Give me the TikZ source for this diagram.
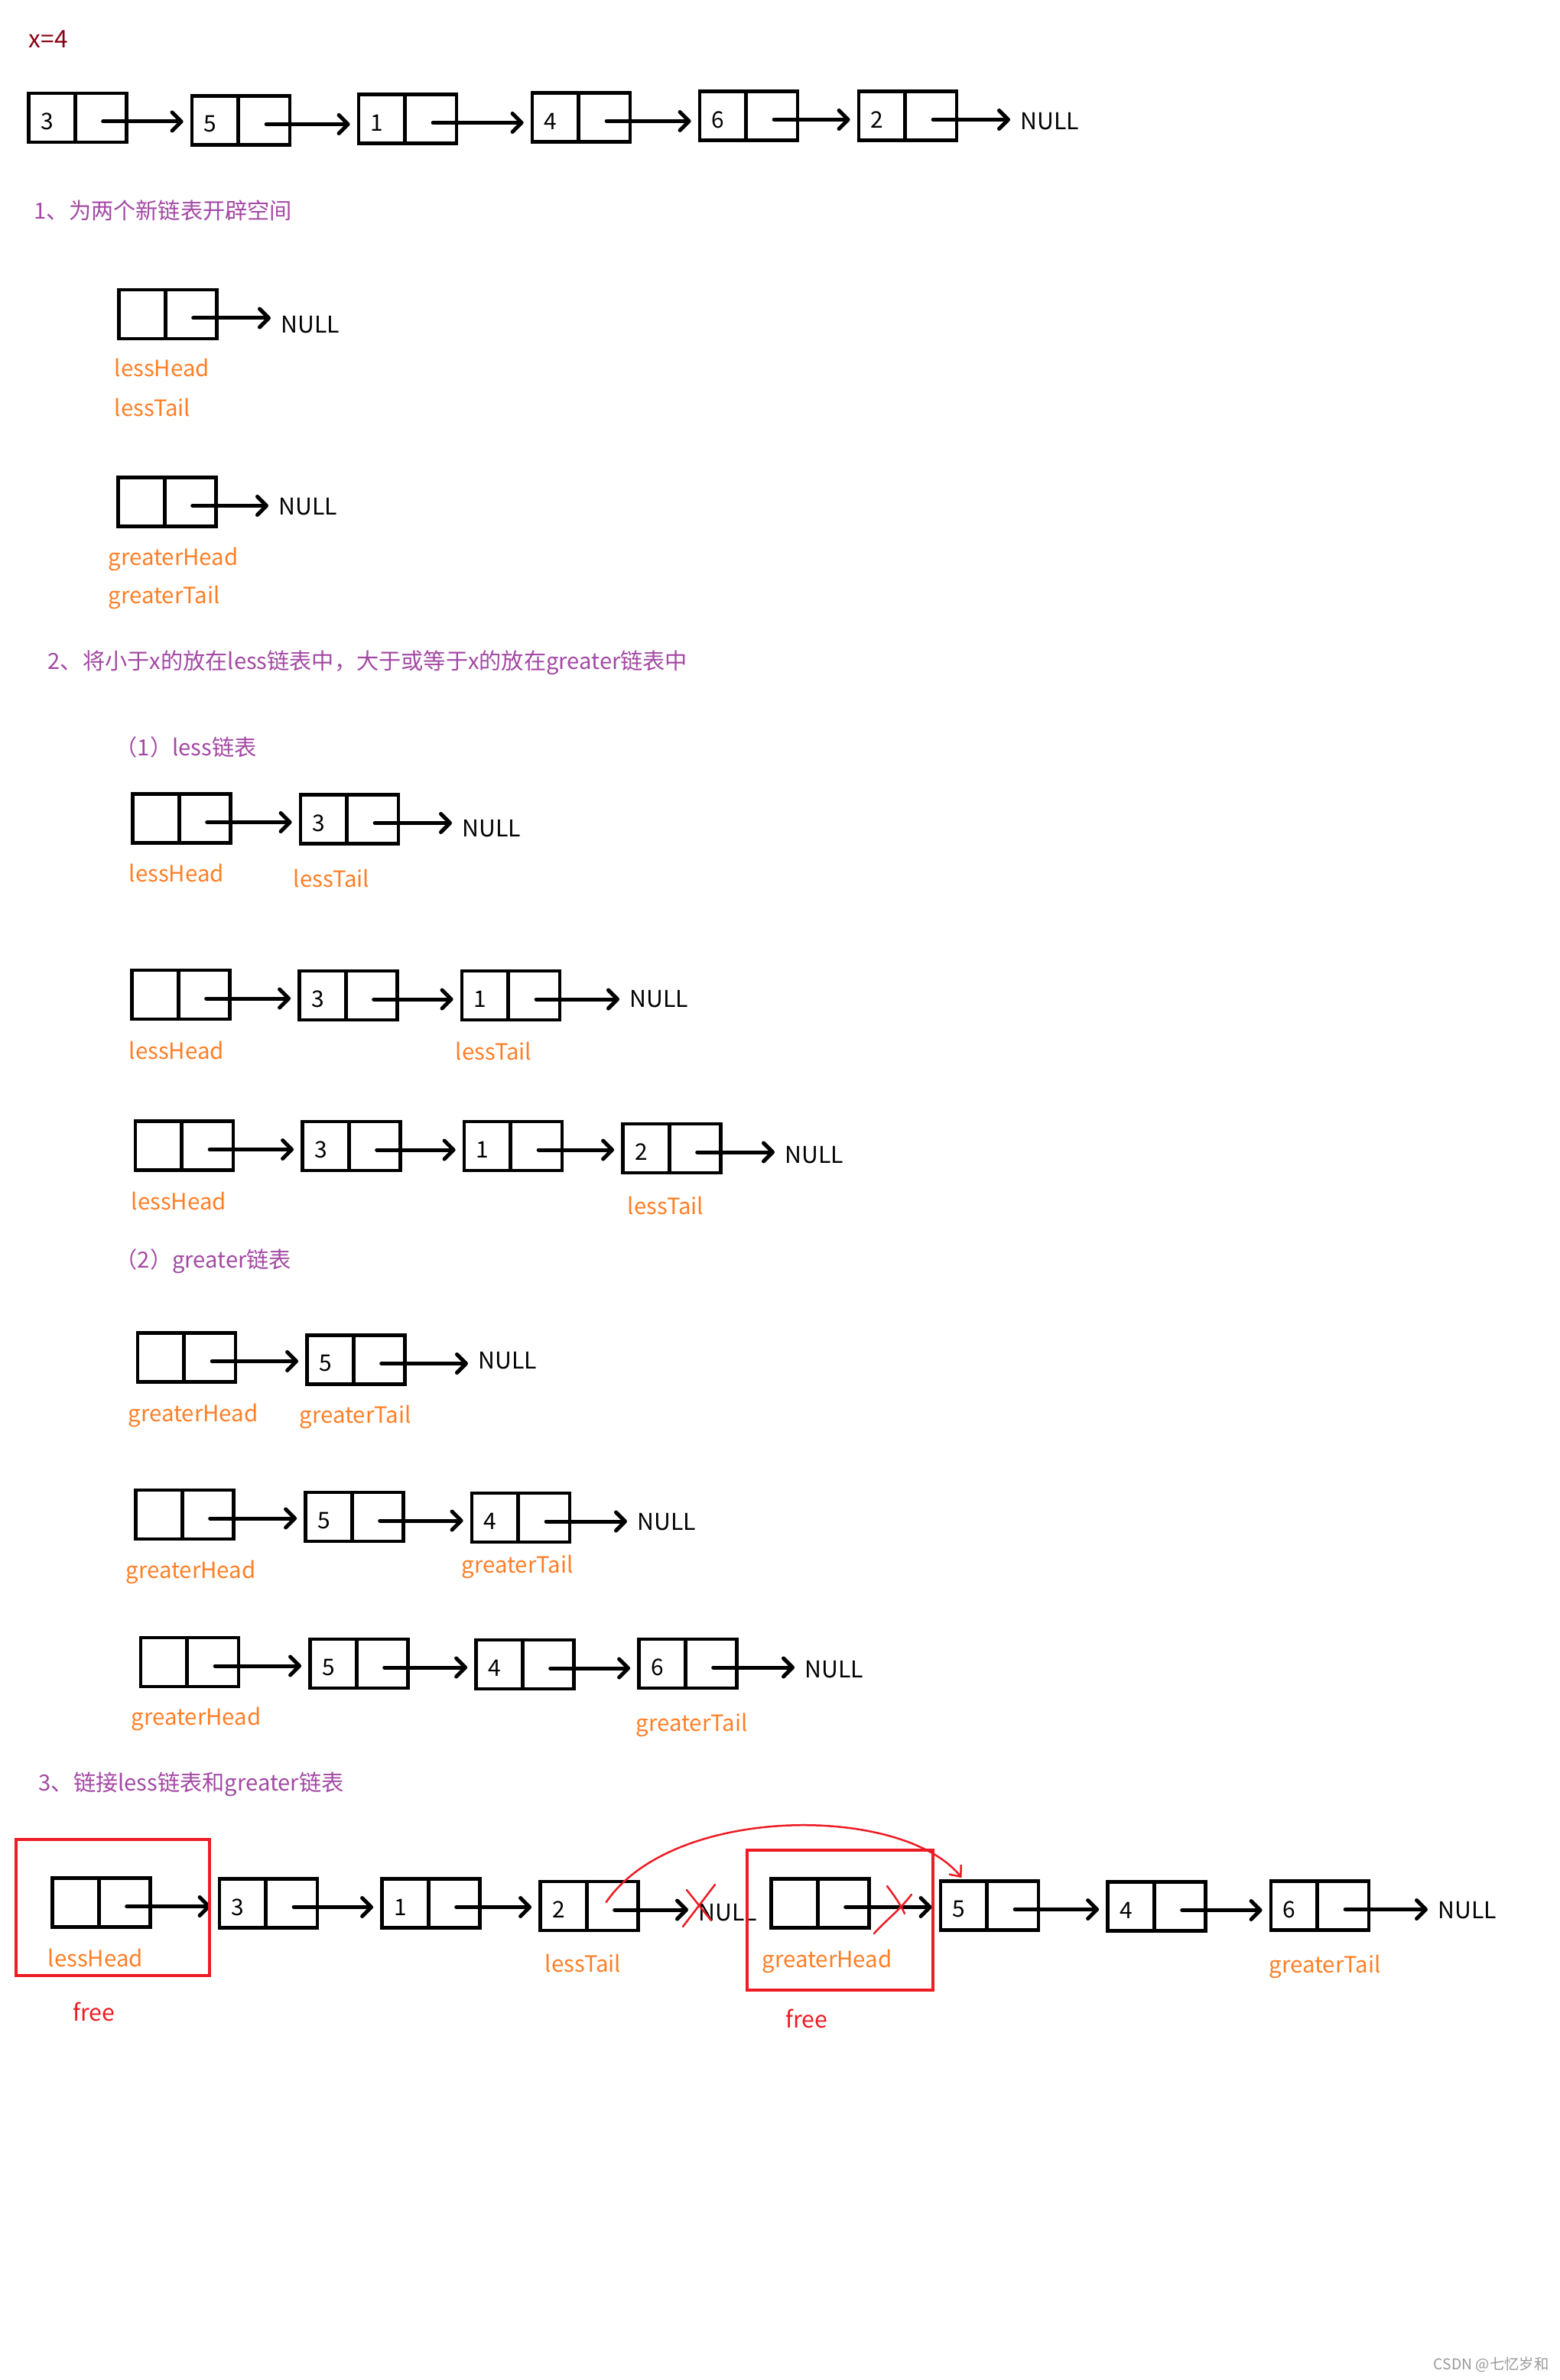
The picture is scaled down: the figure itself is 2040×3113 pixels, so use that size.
\documentclass[tikz,border=0pt]{standalone}
\usepackage{fontspec}
\setmainfont{Noto Sans CJK SC}
\usetikzlibrary{arrows.meta,calc}
\definecolor{hpurple}{HTML}{A349A4}
\definecolor{lorange}{HTML}{FF7F27}
\definecolor{pred}{HTML}{ED1C24}
\definecolor{dred}{HTML}{880015}
\definecolor{wmgray}{HTML}{9A9A9A}
\newcommand\lnode[4]{%
  \node[cell] (#1) at (#2,#3) {};
  \draw[cellsplit] ($(#1.north west)!0.475!(#1.north east)$) -- ($(#1.south west)!0.475!(#1.south east)$);
  \node[val] (#1v) at ($(#1.west)!0.2!(#1.east)+(0,5)$) {#4};
  \coordinate (#1p) at ($(#1.west)!0.75!(#1.east)+(0,5)$);
}
\newcommand\link[2]{\draw[arr] (#1p) -- (#1p -| #2.west);}
\newcommand\tonull[2]{\draw[arr,shorten >=0.13cm] (#1p) -- (#1p -| #2.west);}
\begin{document}
\begin{tikzpicture}[x=0.01cm,y=-0.01cm,
  cell/.style={draw=black,line width=0.047cm,minimum width=1.28cm,minimum height=0.64cm,inner sep=0pt},
  cellsplit/.style={line width=0.047cm},
  val/.style={font=\fontsize{8.5pt}{10pt}\selectfont,inner sep=0pt},
  arr/.style={line width=0.05cm,line cap=round,-{Straight Barb[length=0.12cm,width=0.24cm,round]},shorten >=0.09cm},
  nul/.style={font=\fontsize{8.6pt}{10pt}\selectfont,inner sep=0pt,anchor=base west},
  lbl/.style={text=lorange,font=\fontsize{8.35pt}{10pt}\selectfont,inner sep=0pt,anchor=base west},
  hd/.style={text=hpurple,font=\fontsize{8.3pt}{10pt}\selectfont,inner sep=0pt,anchor=base west},
  freetxt/.style={text=pred,font=\fontsize{8.6pt}{10pt}\selectfont,inner sep=0pt,anchor=base west},
  redbox/.style={draw=pred,line width=0.045cm,inner sep=0pt},
  redpen/.style={draw=pred,line width=0.025cm,line cap=round,line join=round}]
\fill[white] (0,0) rectangle (2040,3113);
\useasboundingbox (0,0) rectangle (2040,3113);

% ---- original list
\node[anchor=base west,inner sep=0pt,text=dred,font=\fontsize{9pt}{10pt}\selectfont] (x4) at (37,63) {x=4};
\lnode{t1}{101.5}{154}{3}
\lnode{t2}{315}{157.5}{5}
\lnode{t3}{533}{155.5}{1}
\lnode{t4}{760}{153.5}{4}
\lnode{t5}{979}{151.5}{6}
\lnode{t6}{1187}{151.5}{2}
\node[nul] (tn) at (1334,170) {NULL};
\link{t1}{t2}\link{t2}{t3}\link{t3}{t4}\link{t4}{t5}\link{t5}{t6}\tonull{t6}{tn}

% ---- step 1
\node[hd] (h1) at (44,287) {1、为两个新链表开辟空间};
\lnode{a1}{219.5}{411}{}
\node[nul] (an) at (367,436) {NULL};
\tonull{a1}{an}
\node[lbl] (a1h) at (149,493) {lessHead};
\node[lbl] (a1t) at (149,545) {lessTail};
\lnode{b1}{218.5}{656.5}{}
\node[nul] (bn) at (364,674) {NULL};
\tonull{b1}{bn}
\node[lbl] (b1h) at (141,740) {greaterHead};
\node[lbl] (b1t) at (141,790) {greaterTail};

% ---- step 2
\node[hd] (h2) at (62,875) {2、将小于x的放在less链表中，大于或等于x的放在greater链表中};
\node[hd] (h21) at (150,988) {（1）less链表};
% L1
\lnode{l1a}{237.5}{1070.5}{}
\lnode{l1b}{457}{1071.5}{3}
\node[nul] (l1n) at (604,1094) {NULL};
\link{l1a}{l1b}\tonull{l1b}{l1n}
\node[lbl] (l1h) at (168,1153) {lessHead};
\node[lbl] (l1t) at (383,1160) {lessTail};
% L2
\lnode{l2a}{236.5}{1301}{}
\lnode{l2b}{455.5}{1302}{3}
\lnode{l2c}{668}{1302}{1}
\node[nul] (l2n) at (823,1317) {NULL};
\link{l2a}{l2b}\link{l2b}{l2c}\tonull{l2c}{l2n}
\node[lbl] (l2h) at (168,1385) {lessHead};
\node[lbl] (l2t) at (595,1386) {lessTail};
% L3
\lnode{l3a}{241}{1498.5}{}
\lnode{l3b}{459.5}{1499}{3}
\lnode{l3c}{671}{1499}{1}
\lnode{l3d}{878.5}{1502}{2}
\node[nul] (l3n) at (1026,1521) {NULL};
\link{l3a}{l3b}\link{l3b}{l3c}\link{l3c}{l3d}\tonull{l3d}{l3n}
\node[lbl] (l3h) at (171,1582) {lessHead};
\node[lbl] (l3t) at (820,1588) {lessTail};

\node[hd] (h22) at (150,1658) {（2）greater链表};
% G1
\lnode{g1a}{244}{1775.5}{}
\lnode{g1b}{465.5}{1778.5}{5}
\node[nul] (g1n) at (625,1790) {NULL};
\link{g1a}{g1b}\tonull{g1b}{g1n}
\node[lbl] (g1h) at (167,1859) {greaterHead};
\node[lbl] (g1t) at (391,1861) {greaterTail};
% G2
\lnode{g2a}{241.5}{1981}{}
\lnode{g2b}{463.5}{1984}{5}
\lnode{g2c}{681}{1985}{4}
\node[nul] (g2n) at (833,2001) {NULL};
\link{g2a}{g2b}\link{g2b}{g2c}\tonull{g2c}{g2n}
\node[lbl] (g2h) at (164,2064) {greaterHead};
\node[lbl] (g2t) at (603,2057) {greaterTail};
% G3
\lnode{g3a}{248}{2174}{}
\lnode{g3b}{469.5}{2176}{5}
\lnode{g3c}{686.5}{2177}{4}
\lnode{g3d}{899.5}{2176}{6}
\node[nul] (g3n) at (1052,2194) {NULL};
\link{g3a}{g3b}\link{g3b}{g3c}\link{g3c}{g3d}\tonull{g3d}{g3n}
\node[lbl] (g3h) at (171,2256) {greaterHead};
\node[lbl] (g3t) at (831,2264) {greaterTail};

% ---- step 3
\node[hd] (h3) at (50,2342) {3、链接less链表和greater链表};
\lnode{c1}{132.5}{2488.5}{}
\lnode{c2}{351}{2489.5}{3}
\lnode{c3}{563.5}{2489.5}{1}
\lnode{c4}{770.5}{2493}{2}
\node[nul] (cn1) at (913,2512) {NULL};
\link{c1}{c2}\link{c2}{c3}\link{c3}{c4}\tonull{c4}{cn1}
\lnode{c5}{1072.5}{2489.5}{}
\lnode{c6}{1294}{2492.5}{5}
\lnode{c7}{1512.5}{2493.5}{4}
\lnode{c8}{1726}{2492.5}{6}
\node[nul] (cn2) at (1880,2509) {NULL};
\link{c5}{c6}\link{c6}{c7}\link{c7}{c8}\tonull{c8}{cn2}
\node[lbl] (c1h) at (62,2572) {lessHead};
\node[lbl] (c4t) at (712,2579) {lessTail};
\node[lbl] (c5h) at (996,2573) {greaterHead};
\node[lbl] (c8t) at (1659,2580) {greaterTail};
\node[redbox,minimum width=2.525cm,minimum height=1.775cm] (fr1) at (147.5,2495) {};
\node[redbox,minimum width=2.425cm,minimum height=1.825cm] (fr2) at (1098.5,2511.5) {};
\node[freetxt] (f1) at (95,2643) {free};
\node[freetxt] (f2) at (1027,2652) {free};
% red pen strokes
\draw[redpen,-{Straight Barb[length=0.12cm,width=0.2cm]}] ($(c4p)+(-11,-10)$) .. controls (880,2360) and (1180,2360) .. ($(c6.north west)+(30,-2)$);
\draw[redpen] (898,2472) -- (930,2512);
\draw[redpen] (935,2465) -- (893,2520);
\draw[redpen] (1160,2467) .. controls (1170,2480) and (1178,2492) .. (1183,2503);
\draw[redpen] (1192,2478) .. controls (1175,2500) and (1158,2512) .. (1143,2529);

% watermark
\node[anchor=base west,inner sep=0pt,text=wmgray,font=\fontsize{5.5pt}{6pt}\selectfont] (wm) at (1874,3099) {CSDN @七忆岁和};
\end{tikzpicture}
\end{document}
